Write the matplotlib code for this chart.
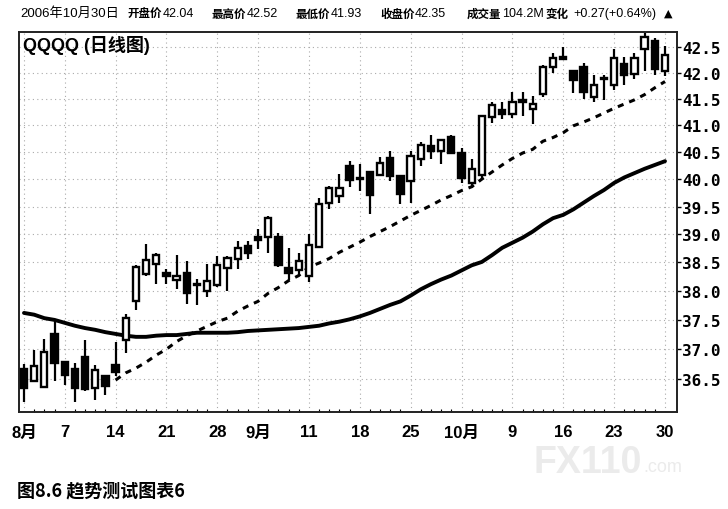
import matplotlib
matplotlib.use("Agg")
import matplotlib.pyplot as plt
from matplotlib.ticker import FixedLocator, NullFormatter, NullLocator
import numpy as np

plt.rcParams['font.family'] = ['Liberation Sans', 'Noto Sans CJK SC', 'DejaVu Sans']

# ---------------------------------------------------------------
# data (QQQQ daily, 2006-08-01 .. 2006-10-30)
# ---------------------------------------------------------------
opens = [36.67, 36.47, 36.37, 37.26, 36.78, 36.66, 36.87, 36.34, 36.54, 36.73,
         37.15, 37.83, 38.30, 38.47, 38.32, 38.20, 38.32, 38.13, 38.00, 38.10,
         38.40, 38.56, 38.80, 38.96, 38.96, 38.95, 38.40, 38.37, 38.26, 38.78,
         39.56, 39.69, 40.24, 40.00, 40.13, 40.08, 40.39, 40.05, 39.96, 40.37,
         40.61, 40.52, 40.78, 40.48, 39.92, 40.07, 41.16, 41.28, 41.22, 41.48,
         41.31, 41.59, 42.11, 42.30, 42.04, 42.11, 41.53, 41.87, 41.76, 42.17,
         41.98, 42.45, 42.62, 42.04]
highs = [36.75, 36.98, 37.17, 37.50, 36.80, 36.77, 37.15, 36.73, 36.56, 37.13,
         37.60, 38.45, 38.83, 38.67, 38.39, 38.64, 38.52, 38.21, 38.47, 38.62,
         38.62, 38.88, 38.88, 39.09, 39.33, 39.03, 38.76, 38.67, 39.01, 39.66,
         39.87, 40.10, 40.33, 40.27, 40.15, 40.40, 40.52, 40.07, 40.52, 40.68,
         40.82, 40.75, 40.82, 40.57, 40.37, 41.20, 41.44, 41.44, 41.62, 41.62,
         41.55, 42.15, 42.38, 42.49, 42.06, 42.19, 41.95, 41.95, 42.46, 42.30,
         42.38, 42.77, 42.67, 42.52]
lows = [36.12, 36.45, 36.35, 36.47, 36.40, 36.12, 36.30, 36.15, 36.23, 36.54,
        36.93, 37.67, 38.27, 38.12, 38.12, 38.03, 37.77, 37.75, 37.90, 38.07,
        38.00, 38.39, 38.57, 38.74, 38.67, 38.42, 38.20, 38.26, 38.16, 38.78,
        39.46, 39.57, 39.86, 39.79, 39.36, 40.05, 39.96, 39.55, 39.57, 40.24,
        40.37, 40.28, 40.46, 39.92, 39.83, 39.99, 41.05, 41.12, 41.13, 41.18,
        41.03, 41.53, 42.00, 42.24, 41.61, 41.50, 41.44, 41.47, 41.66, 41.76,
        41.87, 42.04, 41.95, 41.93]
closes = [36.35, 36.72, 36.96, 36.77, 36.56, 36.34, 36.33, 36.65, 36.38, 36.61,
          37.53, 38.42, 38.55, 38.64, 38.27, 38.26, 37.96, 38.11, 38.17, 38.45,
          38.58, 38.76, 38.66, 38.90, 39.30, 38.45, 38.31, 38.53, 38.81, 39.54,
          39.83, 39.84, 39.99, 40.02, 39.71, 40.30, 40.05, 39.73, 40.43, 40.63,
          40.52, 40.72, 40.49, 40.02, 40.19, 41.18, 41.39, 41.22, 41.44, 41.44,
          41.41, 42.11, 42.28, 42.26, 41.85, 41.63, 41.76, 41.89, 42.28, 41.95,
          42.28, 42.69, 42.08, 42.35]

# slow average (solid) and fast average (dashed, starts mid-August)
ma_slow = [37.62, 37.59, 37.53, 37.50, 37.45, 37.40, 37.36, 37.33, 37.29, 37.26,
           37.23, 37.21, 37.21, 37.23, 37.24, 37.24, 37.26, 37.28, 37.28, 37.28,
           37.28, 37.29, 37.31, 37.32, 37.33, 37.34, 37.35, 37.36, 37.38, 37.40,
           37.44, 37.47, 37.51, 37.56, 37.62, 37.69, 37.76, 37.82, 37.92, 38.03,
           38.12, 38.20, 38.27, 38.36, 38.45, 38.51, 38.63, 38.76, 38.85, 38.94,
           39.05, 39.18, 39.29, 39.35, 39.45, 39.57, 39.69, 39.80, 39.93, 40.03,
           40.11, 40.19, 40.26, 40.33]
ma_fast = [np.nan] * 9 + [
           36.48, 36.60, 36.68, 36.78, 36.90, 37.00, 37.13, 37.23, 37.31, 37.39,
           37.47, 37.53, 37.65, 37.74, 37.82, 37.96, 38.06, 38.18, 38.27, 38.42,
           38.49, 38.57, 38.68, 38.77, 38.86, 38.96, 39.05, 39.14, 39.24, 39.34,
           39.43, 39.52, 39.62, 39.70, 39.79, 39.86, 40.00, 40.13, 40.26, 40.38,
           40.48, 40.55, 40.70, 40.77, 40.86, 40.99, 41.06, 41.14, 41.23, 41.32,
           41.40, 41.48, 41.58, 41.71, 41.83]

tick_idx = [0, 4, 9, 14, 19, 23, 28, 33, 38, 43, 48, 53, 58, 63]
tick_lbl = ['8月', '7', '14', '21', '28', '9月', '11', '18', '25', '10月', '9', '16', '23', '30']
price_ticks = [36.5, 37.0, 37.5, 38.0, 38.5, 39.0, 39.5, 40.0, 40.5, 41.0, 41.5, 42.0, 42.5]

# header: (label, label x, value, value x) in pixels
header = [("开盘价", 128, "42.04", 163),
          ("最高价", 212, "42.52", 247),
          ("最低价", 296, "41.93", 331),
          ("收盘价", 380, "42.35", 415),
          ("成交量", 467, "104.2M", 502),
          ("变化", 546, "+0.27(+0.64%)", 573)]

# ---------------------------------------------------------------
W, H = 728, 510
fig = plt.figure(figsize=(W / 100, H / 100), dpi=100)
fig.patch.set_facecolor('white')

def fx(px):
    return px / W

def fy(py):
    return 1 - py / H

ax = fig.add_axes([fx(19), fy(413), fx(676.7) - fx(19), fy(33) - fy(413)])
ax.set_yscale('log')

x = np.arange(len(opens))
o = np.array(opens)
c = np.array(closes)
up = c >= o

# moving averages
ax.plot(x, ma_slow, color='black', lw=2.8, zorder=1, solid_capstyle='round')
ax.plot(x, ma_fast, color='black', lw=2.2, ls=(0, (2.0, 2.0)), zorder=1)

# wicks
ax.vlines(x, lows, highs, color='black', lw=1.6, zorder=2)

# bodies
bw = 0.62
bottoms = np.minimum(o, c)
heights = np.maximum(np.abs(c - o), 0.012)
ax.bar(x[up], heights[up], bottom=bottoms[up], width=bw, facecolor='white',
       edgecolor='black', linewidth=1.7, zorder=3)
ax.bar(x[~up], heights[~up], bottom=bottoms[~up], width=bw, facecolor='black',
       edgecolor='black', linewidth=1.7, zorder=3)

ax.set_xlim(-0.49, 64.15)
ax.set_ylim(35.95, 42.79)

# axes / ticks
ax.yaxis.tick_right()
ax.yaxis.set_major_locator(FixedLocator(price_ticks))
ax.yaxis.set_minor_locator(NullLocator())
ax.yaxis.set_minor_formatter(NullFormatter())
ax.set_yticklabels([f"{p:.1f}" for p in price_ticks])
for t in ax.get_yticklabels():
    t.set_fontfamily('DejaVu Sans Mono')
    t.set_fontweight('bold')
    t.set_fontsize(11.5)
ax.tick_params(axis='y', which='major', length=3, width=1, direction='out', pad=1)

ax.set_xticks(tick_idx)
ax.set_xticklabels(tick_lbl)
for t in ax.get_xticklabels():
    t.set_fontfamily(['Liberation Sans Narrow', 'Liberation Sans', 'Noto Sans CJK SC'])
    t.set_fontweight('bold')
    t.set_fontsize(12)
ax.tick_params(axis='x', which='major', length=0, pad=9)
ax.xaxis.set_minor_locator(FixedLocator(x))
ax.tick_params(axis='x', which='minor', length=2, width=0.8, direction='in')

for s in ax.spines.values():
    s.set_linewidth(1.4)
    s.set_color('#222222')

ax.grid(True, which='major', color='#aaaaaa', lw=0.8, ls=(0, (1, 3)))
ax.set_axisbelow(True)

# titles / header
ax.text(0.006, 0.992, "QQQQ (日线图)", transform=ax.transAxes, ha='left', va='top',
        fontsize=13, fontweight='bold', color='black', zorder=5)

fig.text(fx(20), fy(14), "2006年10月30日", ha='left', va='center', fontsize=9.5)
for lab, lx, val, vx in header:
    fig.text(fx(lx), fy(14), lab, ha='left', va='center', fontsize=8.3,
             fontweight='bold', family=['Noto Sans CJK SC'])
    fig.text(fx(vx), fy(14), val, ha='left', va='center', fontsize=9)
fig.text(fx(664), fy(14), "▲", ha='left', va='center', fontsize=8,
         family='DejaVu Sans', color='black')

# watermark
fig.text(fx(534), fy(463), "FX110", ha='left', va='center', fontsize=27,
         fontweight='bold', color='#ebebeb', zorder=0)
fig.text(fx(643), fy(468), ".com", ha='left', va='center', fontsize=13,
         color='#ebebeb', zorder=0)

# caption
fig.text(fx(17), fy(491), "图8.6 趋势测试图表6", ha='left', va='center',
         fontsize=13, fontweight='bold', family=['Noto Sans CJK SC'])

fig.savefig("out.png", dpi=100)
